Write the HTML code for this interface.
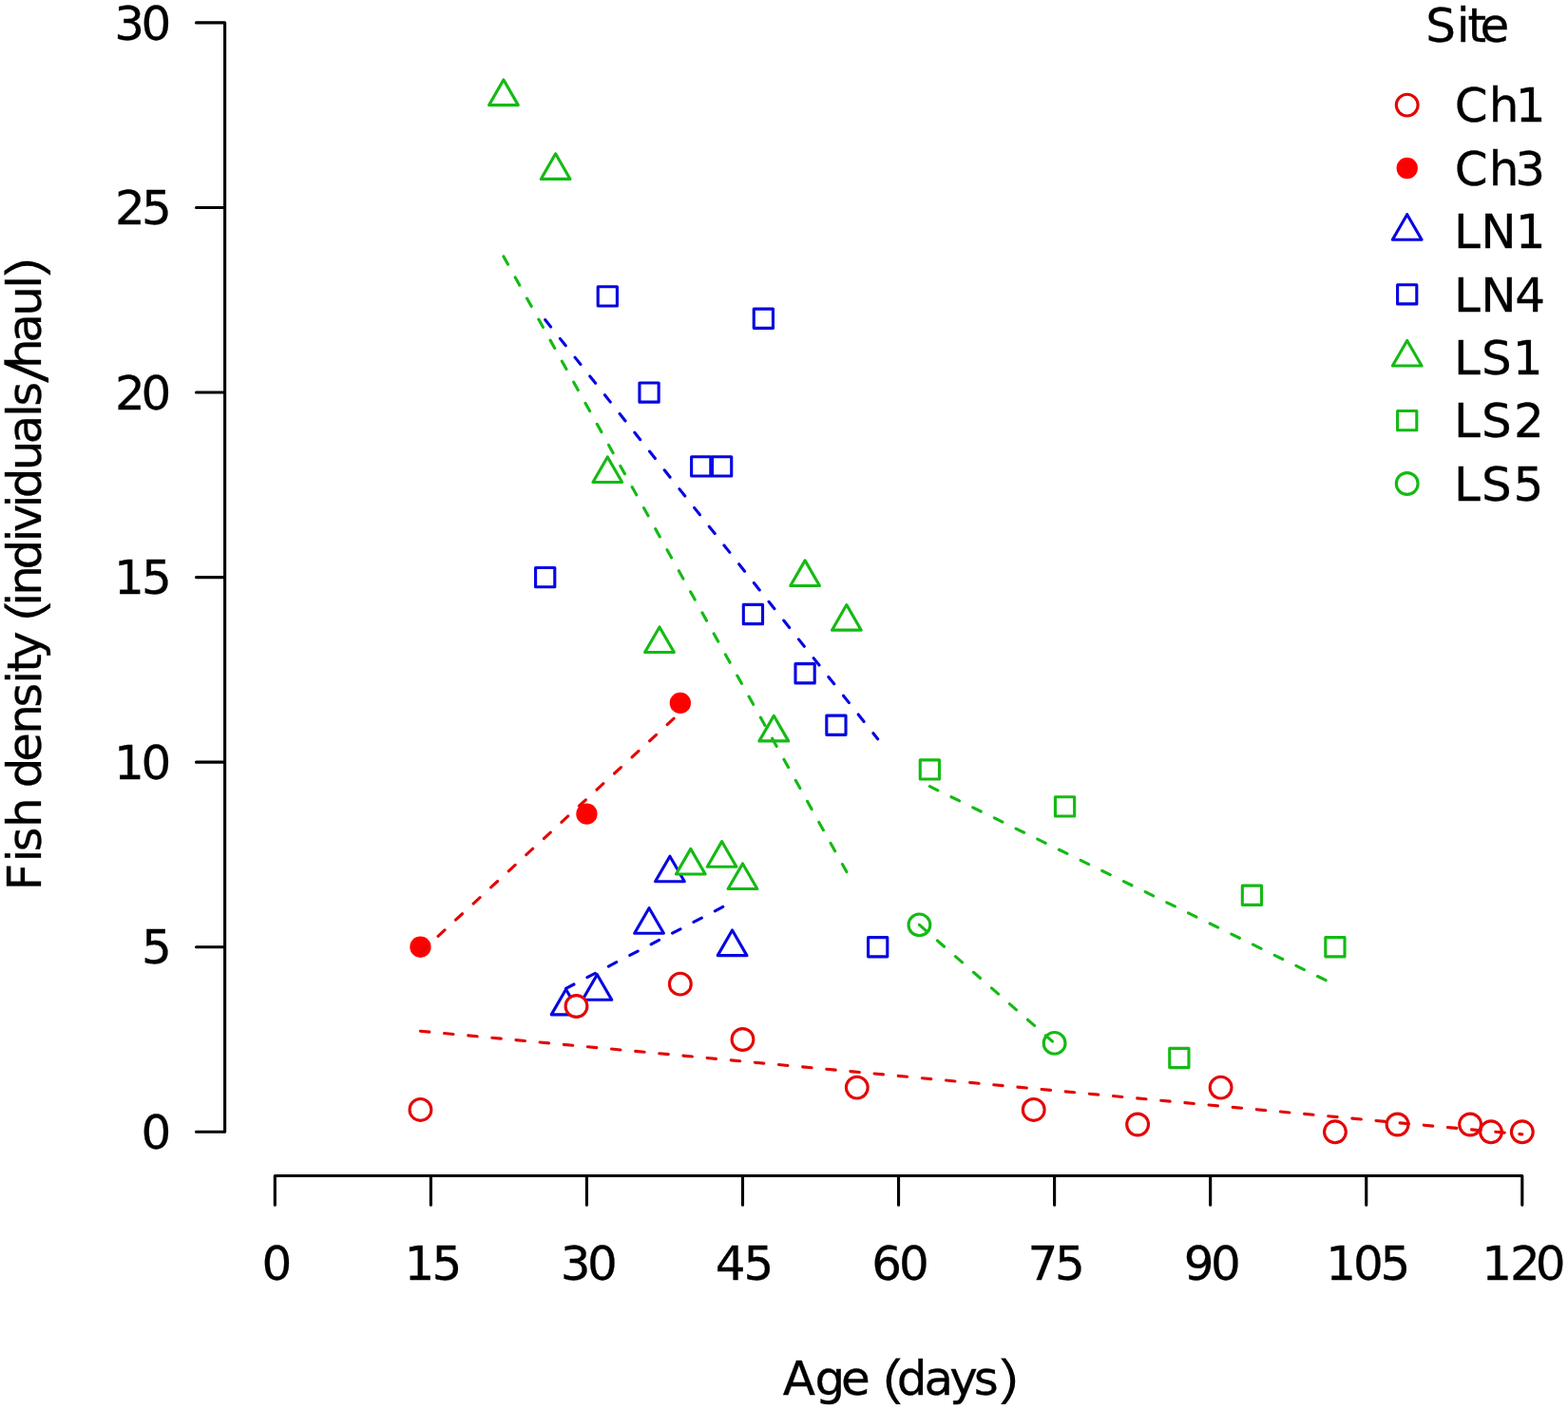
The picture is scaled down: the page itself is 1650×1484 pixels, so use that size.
<!DOCTYPE html>
<html lang="en"><head><meta charset="utf-8"><title>Fish density vs age</title>
<style>html,body{margin:0;padding:0;background:#fff}body{width:1650px;height:1484px;overflow:hidden}svg{display:block}</style>
</head><body>
<svg width="1650" height="1484" viewBox="0 0 1650 1484" font-family='"DejaVu Sans","Liberation Sans",sans-serif' font-size="50" fill="#000">
<rect width="1650" height="1484" fill="#fff" stroke="none"/>
<path d="M236.6 23.91V1191.30M236.6 1191.30H206.50M236.6 996.73H206.50M236.6 802.17H206.50M236.6 607.61H206.50M236.6 413.04H206.50M236.6 218.48H206.50M236.6 23.91H206.50M289.30 1237.5H1601.80M289.30 1237.5V1268.30M453.36 1237.5V1268.30M617.42 1237.5V1268.30M781.49 1237.5V1268.30M945.55 1237.5V1268.30M1109.61 1237.5V1268.30M1273.67 1237.5V1268.30M1437.74 1237.5V1268.30M1601.80 1237.5V1268.30" fill="none" stroke="#000" stroke-width="3.125" stroke-linecap="round" stroke-linejoin="round"/>
<text stroke="#000" stroke-width="0.3"><tspan x="120.19 148.61" y="41.61">30</tspan></text>
<text stroke="#000" stroke-width="0.3"><tspan x="121.02 149.00" y="236.18">25</tspan></text>
<text stroke="#000" stroke-width="0.3"><tspan x="121.02 148.61" y="430.74">20</tspan></text>
<text stroke="#000" stroke-width="0.3"><tspan x="120.00 149.00" y="625.31">15</tspan></text>
<text stroke="#000" stroke-width="0.3"><tspan x="120.00 148.61" y="819.87">10</tspan></text>
<text stroke="#000" stroke-width="0.3"><tspan x="149.00" y="1014.43">5</tspan></text>
<text stroke="#000" stroke-width="0.3"><tspan x="148.61" y="1209.00">0</tspan></text>
<text stroke="#000" stroke-width="0.3"><tspan x="275.61" y="1346.90">0</tspan></text>
<text stroke="#000" stroke-width="0.3"><tspan x="425.40 454.40" y="1346.90">15</tspan></text>
<text stroke="#000" stroke-width="0.3"><tspan x="589.79 618.01" y="1346.90">30</tspan></text>
<text stroke="#000" stroke-width="0.3"><tspan x="752.78 782.40" y="1346.90">45</tspan></text>
<text stroke="#000" stroke-width="0.3"><tspan x="917.22 946.11" y="1346.90">60</tspan></text>
<text stroke="#000" stroke-width="0.3"><tspan x="1081.53 1110.10" y="1346.90">75</tspan></text>
<text stroke="#000" stroke-width="0.3"><tspan x="1245.73 1273.96" y="1346.90">90</tspan></text>
<text stroke="#000" stroke-width="0.3"><tspan x="1395.20 1424.01 1452.60" y="1346.90">105</tspan></text>
<text stroke="#000" stroke-width="0.3"><tspan x="1559.30 1589.12 1615.81" y="1346.90">120</tspan></text>
<text stroke="#000" stroke-width="0.3"><tspan x="823.84 857.47 884.97" y="1468.20">Age</tspan> <tspan x="925.18" y="1471.40" font-family="DejaVu Sans Light,DejaVu Sans,sans-serif" font-weight="200" font-size="54" stroke-width="1.1" textLength="28.97" lengthAdjust="spacingAndGlyphs">(</tspan><tspan x="943.82 972.40 999.31 1024.74" y="1468.20">days</tspan><tspan x="1046.18" y="1471.40" font-family="DejaVu Sans Light,DejaVu Sans,sans-serif" font-weight="200" font-size="54" stroke-width="1.1" textLength="28.97" lengthAdjust="spacingAndGlyphs">)</tspan></text>
<text transform="translate(42.9 933.8) rotate(-90)" stroke="#000" stroke-width="0.3"><tspan x="-3.68 26.39 37.29 62.86" y="0.00">Fish</tspan> <tspan x="104.52 132.07 160.96 189.14 214.09 226.12 240.16" y="0.00">density</tspan> <tspan x="276.58" y="3.20" font-family="DejaVu Sans Light,DejaVu Sans,sans-serif" font-weight="200" font-size="54" stroke-width="1.1" textLength="28.97" lengthAdjust="spacingAndGlyphs">(</tspan><tspan x="296.09 306.96 334.32 363.39 373.66 399.39 409.62 438.50 466.50 494.84 506.09" y="0.00">individuals</tspan><tspan x="530.64" y="1.90" font-family="DejaVu Sans Light,DejaVu Sans,sans-serif" font-weight="200" font-size="55" stroke-width="1.1" textLength="24.91" lengthAdjust="spacingAndGlyphs">/</tspan><tspan x="545.86 573.20 601.15 629.99" y="0.00">haul</tspan><tspan x="636.98" y="3.20" font-family="DejaVu Sans Light,DejaVu Sans,sans-serif" font-weight="200" font-size="54" stroke-width="1.1" textLength="28.97" lengthAdjust="spacingAndGlyphs">)</tspan></text>
<text stroke="#000" stroke-width="0.3"><tspan x="1500.17 1532.64 1544.42 1557.62" y="43.70">Site</tspan></text>
<circle cx="1480.70" cy="110.60" r="11.40" fill="#fff" stroke="#e40606" stroke-width="3.125"/>
<text stroke="#000" stroke-width="0.3"><tspan x="1530.80 1566.86 1594.70" y="128.30">Ch1</tspan></text>
<circle cx="1480.70" cy="177.00" r="11.15" fill="#ff0000" stroke="none"/>
<text stroke="#000" stroke-width="0.3"><tspan x="1530.80 1566.86 1594.29" y="194.70">Ch3</tspan></text>
<path d="M1480.70 225.67L1496.05 252.26L1465.35 252.26Z" fill="#fff" stroke="#0606e2" stroke-width="3.125" stroke-linejoin="round"/>
<text stroke="#000" stroke-width="0.3"><tspan x="1530.10 1558.15 1594.70" y="261.10">LN1</tspan></text>
<rect x="1470.60" y="299.70" width="20.21" height="20.21" fill="#fff" stroke="#0606e2" stroke-width="3.125" stroke-linejoin="round"/>
<text stroke="#000" stroke-width="0.3"><tspan x="1530.10 1558.15 1594.33" y="327.50">LN4</tspan></text>
<path d="M1480.70 358.47L1496.05 385.06L1465.35 385.06Z" fill="#fff" stroke="#14ba14" stroke-width="3.125" stroke-linejoin="round"/>
<text stroke="#000" stroke-width="0.3"><tspan x="1530.10 1558.92 1591.70" y="393.90">LS1</tspan></text>
<rect x="1470.60" y="432.50" width="20.21" height="20.21" fill="#fff" stroke="#14ba14" stroke-width="3.125" stroke-linejoin="round"/>
<text stroke="#000" stroke-width="0.3"><tspan x="1530.10 1558.92 1592.92" y="460.30">LS2</tspan></text>
<circle cx="1480.70" cy="509.00" r="11.40" fill="#fff" stroke="#14ba14" stroke-width="3.125"/>
<text stroke="#000" stroke-width="0.3"><tspan x="1530.10 1558.92 1592.40" y="526.70">LS5</tspan></text>
<path d="M595.55 1041.27L610.90 1067.86L580.20 1067.86Z" fill="#fff" stroke="#0606e2" stroke-width="3.125" stroke-linejoin="round"/>
<path d="M628.36 1025.70L643.72 1052.29L613.01 1052.29Z" fill="#fff" stroke="#0606e2" stroke-width="3.125" stroke-linejoin="round"/>
<path d="M683.05 955.66L698.40 982.25L667.70 982.25Z" fill="#fff" stroke="#0606e2" stroke-width="3.125" stroke-linejoin="round"/>
<path d="M704.92 901.18L720.28 927.77L689.57 927.77Z" fill="#fff" stroke="#0606e2" stroke-width="3.125" stroke-linejoin="round"/>
<path d="M770.55 979.01L785.90 1005.60L755.20 1005.60Z" fill="#fff" stroke="#0606e2" stroke-width="3.125" stroke-linejoin="round"/>
<rect x="563.57" y="597.50" width="20.21" height="20.21" fill="#fff" stroke="#0606e2" stroke-width="3.125" stroke-linejoin="round"/>
<rect x="629.20" y="301.76" width="20.21" height="20.21" fill="#fff" stroke="#0606e2" stroke-width="3.125" stroke-linejoin="round"/>
<rect x="672.95" y="402.94" width="20.21" height="20.21" fill="#fff" stroke="#0606e2" stroke-width="3.125" stroke-linejoin="round"/>
<rect x="727.63" y="480.76" width="20.21" height="20.21" fill="#fff" stroke="#0606e2" stroke-width="3.125" stroke-linejoin="round"/>
<rect x="749.51" y="480.76" width="20.21" height="20.21" fill="#fff" stroke="#0606e2" stroke-width="3.125" stroke-linejoin="round"/>
<rect x="782.32" y="636.42" width="20.21" height="20.21" fill="#fff" stroke="#0606e2" stroke-width="3.125" stroke-linejoin="round"/>
<rect x="793.26" y="325.11" width="20.21" height="20.21" fill="#fff" stroke="#0606e2" stroke-width="3.125" stroke-linejoin="round"/>
<rect x="837.01" y="698.68" width="20.21" height="20.21" fill="#fff" stroke="#0606e2" stroke-width="3.125" stroke-linejoin="round"/>
<rect x="869.82" y="753.15" width="20.21" height="20.21" fill="#fff" stroke="#0606e2" stroke-width="3.125" stroke-linejoin="round"/>
<rect x="913.57" y="986.63" width="20.21" height="20.21" fill="#fff" stroke="#0606e2" stroke-width="3.125" stroke-linejoin="round"/>
<path d="M529.92 84.01L545.28 110.60L514.57 110.60Z" fill="#fff" stroke="#14ba14" stroke-width="3.125" stroke-linejoin="round"/>
<path d="M584.61 161.83L599.97 188.43L569.26 188.43Z" fill="#fff" stroke="#14ba14" stroke-width="3.125" stroke-linejoin="round"/>
<path d="M639.30 480.92L654.65 507.51L623.95 507.51Z" fill="#fff" stroke="#14ba14" stroke-width="3.125" stroke-linejoin="round"/>
<path d="M693.99 659.92L709.34 686.51L678.63 686.51Z" fill="#fff" stroke="#14ba14" stroke-width="3.125" stroke-linejoin="round"/>
<path d="M726.80 893.40L742.15 919.99L711.45 919.99Z" fill="#fff" stroke="#14ba14" stroke-width="3.125" stroke-linejoin="round"/>
<path d="M759.61 885.62L774.97 912.21L744.26 912.21Z" fill="#fff" stroke="#14ba14" stroke-width="3.125" stroke-linejoin="round"/>
<path d="M781.49 908.96L796.84 935.56L766.13 935.56Z" fill="#fff" stroke="#14ba14" stroke-width="3.125" stroke-linejoin="round"/>
<path d="M814.30 753.31L829.65 779.90L798.95 779.90Z" fill="#fff" stroke="#14ba14" stroke-width="3.125" stroke-linejoin="round"/>
<path d="M847.11 589.88L862.47 616.47L831.76 616.47Z" fill="#fff" stroke="#14ba14" stroke-width="3.125" stroke-linejoin="round"/>
<path d="M890.86 636.57L906.22 663.16L875.51 663.16Z" fill="#fff" stroke="#14ba14" stroke-width="3.125" stroke-linejoin="round"/>
<rect x="968.26" y="799.85" width="20.21" height="20.21" fill="#fff" stroke="#14ba14" stroke-width="3.125" stroke-linejoin="round"/>
<rect x="1110.45" y="838.76" width="20.21" height="20.21" fill="#fff" stroke="#14ba14" stroke-width="3.125" stroke-linejoin="round"/>
<rect x="1230.76" y="1103.37" width="20.21" height="20.21" fill="#fff" stroke="#14ba14" stroke-width="3.125" stroke-linejoin="round"/>
<rect x="1307.32" y="932.15" width="20.21" height="20.21" fill="#fff" stroke="#14ba14" stroke-width="3.125" stroke-linejoin="round"/>
<rect x="1394.82" y="986.63" width="20.21" height="20.21" fill="#fff" stroke="#14ba14" stroke-width="3.125" stroke-linejoin="round"/>
<circle cx="967.42" cy="973.39" r="11.40" fill="#fff" stroke="#14ba14" stroke-width="3.125"/>
<circle cx="1109.61" cy="1097.91" r="11.40" fill="#fff" stroke="#14ba14" stroke-width="3.125"/>
<circle cx="442.43" cy="1167.95" r="11.40" fill="#fff" stroke="#e40606" stroke-width="3.125"/>
<circle cx="606.49" cy="1059.00" r="11.40" fill="#fff" stroke="#e40606" stroke-width="3.125"/>
<circle cx="715.86" cy="1035.65" r="11.40" fill="#fff" stroke="#e40606" stroke-width="3.125"/>
<circle cx="781.49" cy="1094.02" r="11.40" fill="#fff" stroke="#e40606" stroke-width="3.125"/>
<circle cx="901.80" cy="1144.60" r="11.40" fill="#fff" stroke="#e40606" stroke-width="3.125"/>
<circle cx="1087.74" cy="1167.95" r="11.40" fill="#fff" stroke="#e40606" stroke-width="3.125"/>
<circle cx="1197.11" cy="1183.52" r="11.40" fill="#fff" stroke="#e40606" stroke-width="3.125"/>
<circle cx="1284.61" cy="1144.60" r="11.40" fill="#fff" stroke="#e40606" stroke-width="3.125"/>
<circle cx="1404.92" cy="1191.30" r="11.40" fill="#fff" stroke="#e40606" stroke-width="3.125"/>
<circle cx="1470.55" cy="1183.52" r="11.40" fill="#fff" stroke="#e40606" stroke-width="3.125"/>
<circle cx="1547.11" cy="1183.52" r="11.40" fill="#fff" stroke="#e40606" stroke-width="3.125"/>
<circle cx="1568.99" cy="1191.30" r="11.40" fill="#fff" stroke="#e40606" stroke-width="3.125"/>
<circle cx="1601.80" cy="1191.30" r="11.40" fill="#fff" stroke="#e40606" stroke-width="3.125"/>
<circle cx="442.43" cy="996.73" r="11.15" fill="#ff0000" stroke="none"/>
<circle cx="617.42" cy="856.65" r="11.15" fill="#ff0000" stroke="none"/>
<circle cx="715.86" cy="739.91" r="11.15" fill="#ff0000" stroke="none"/>
<path d="M442.43 1085.21L1601.80 1193.89" fill="none" stroke="#e40606" stroke-width="3.125" stroke-linecap="round" stroke-dasharray="9.47 15.78"/>
<path d="M442.43 1002.41L715.86 750.01" fill="none" stroke="#e40606" stroke-width="3.125" stroke-linecap="round" stroke-dasharray="9.47 15.78"/>
<path d="M595.55 1040.37L770.55 949.39" fill="none" stroke="#0606e2" stroke-width="3.125" stroke-linecap="round" stroke-dasharray="9.47 15.78"/>
<path d="M573.67 336.58L923.67 777.77" fill="none" stroke="#0606e2" stroke-width="3.125" stroke-linecap="round" stroke-dasharray="9.47 15.78"/>
<path d="M529.92 269.90L890.86 917.56" fill="none" stroke="#14ba14" stroke-width="3.125" stroke-linecap="round" stroke-dasharray="9.47 15.78"/>
<path d="M978.36 827.64L1404.92 1036.52" fill="none" stroke="#14ba14" stroke-width="3.125" stroke-linecap="round" stroke-dasharray="9.47 15.78"/>
<path d="M967.42 973.39L1109.61 1097.91" fill="none" stroke="#14ba14" stroke-width="3.125" stroke-linecap="round" stroke-dasharray="9.47 15.78"/>
</svg>
</body></html>
